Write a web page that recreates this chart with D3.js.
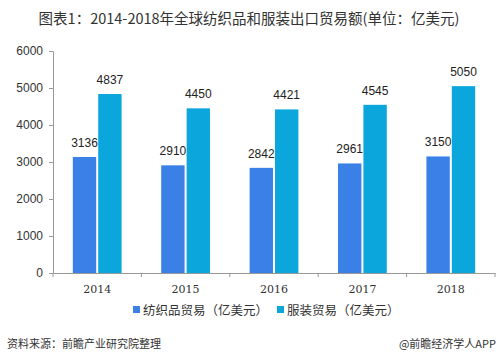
<!DOCTYPE html>
<html>
<head>
<meta charset="utf-8">
<script src="https://cdn.jsdelivr.net/npm/d3@7/dist/d3.min.js"></script>
<style>
  body { margin: 0; background: #fff; }
  text { font-family: "Noto Sans CJK SC", "Noto Sans", sans-serif; }
</style>
</head>
<body>
<div id="chart"></div>
<script>
// 年份
const years = ['2014', '2015', '2016', '2017', '2018'];
// 纺织品贸易（亿美元）
const textile = [3136, 2910, 2842, 2961, 3150];
// 服装贸易（亿美元）
const apparel = [4837, 4450, 4421, 4545, 5050];
const yTicks = [0, 1000, 2000, 3000, 4000, 5000, 6000];
const seriesNames = ['纺织品贸易（亿美元）', '服装贸易（亿美元）'];

const W = 499, H = 363;
const colors = ['#3a80e6', '#0aa6dc'];

const svg = d3.select('#chart').append('svg')
  .attr('width', W)
  .attr('height', H);

// 标题
svg.append('text')
  .attr('x', 249).attr('y', 24)
  .attr('text-anchor', 'middle')
  .attr('font-size', 14.5)
  .attr('fill', '#333')
  .text('图表1：2014-2018年全球纺织品和服装出口贸易额(单位：亿美元)');

const x = d3.scaleBand().domain(years).range([53, 495]);
const y = d3.scaleLinear().domain([0, 6000]).range([273, 51]);
const xs = d3.scaleBand().domain([0, 1]).range([0, x.bandwidth()]).paddingInner(0.08).paddingOuter(0.78);

// y轴
const yAxis = svg.append('g')
  .attr('transform', 'translate(53,0)')
  .call(d3.axisLeft(y).tickValues(yTicks).tickSize(4).tickPadding(6).tickFormat(d3.format('d')));
yAxis.select('.domain').attr('stroke', '#999');
yAxis.selectAll('.tick line').attr('stroke', '#999');
yAxis.selectAll('.tick text').attr('font-size', 12).attr('fill', '#333')
  .style('font-family', 'Arial, "Liberation Sans", sans-serif');

// x轴
const xAxis = svg.append('g')
  .attr('transform', 'translate(0,273)')
  .call(d3.axisBottom(x).tickSize(0).tickPadding(12));
xAxis.select('.domain').attr('stroke', '#999');
xAxis.selectAll('.tick text').attr('font-size', 11).attr('fill', '#333')
  .style('font-family', '"DejaVu Serif", serif');
// 类目分隔刻度
svg.append('g').selectAll('line')
  .data(years.concat(['end']))
  .join('line')
  .attr('x1', (d, i) => i < years.length ? x(d) : x(years[years.length - 1]) + x.bandwidth())
  .attr('x2', (d, i) => i < years.length ? x(d) : x(years[years.length - 1]) + x.bandwidth())
  .attr('y1', 273).attr('y2', 277)
  .attr('stroke', '#999');

// 柱子
const series = [textile, apparel];
series.forEach((vals, s) => {
  const g = svg.append('g');
  g.selectAll('rect')
    .data(vals)
    .join('rect')
    .attr('x', (d, i) => x(years[i]) + xs(s))
    .attr('y', d => y(d))
    .attr('width', xs.bandwidth())
    .attr('height', d => y(0) - y(d))
    .attr('fill', colors[s]);
  g.selectAll('text')
    .data(vals)
    .join('text')
    .attr('x', (d, i) => x(years[i]) + xs(s) + xs.bandwidth() / 2)
    .attr('y', d => y(d) - 10)
    .attr('text-anchor', 'middle')
    .attr('font-size', 12)
    .attr('fill', '#222')
    .style('font-family', 'Arial, "Liberation Sans", sans-serif')
    .text(d => d);
});

// 图例
const legendX = [133, 277];
const legend = svg.append('g').selectAll('g')
  .data(seriesNames)
  .join('g')
  .attr('transform', (d, i) => `translate(${legendX[i]},310)`);
legend.append('rect')
  .attr('x', 0).attr('y', -4)
  .attr('width', 7).attr('height', 7)
  .attr('fill', (d, i) => colors[i]);
legend.append('text')
  .attr('x', 10).attr('y', 4.5)
  .attr('font-size', 12.5)
  .attr('fill', '#333')
  .text(d => d);

// 来源
svg.append('text')
  .attr('x', 7).attr('y', 348)
  .attr('font-size', 11)
  .attr('fill', '#333')
  .text('资料来源：前瞻产业研究院整理');
svg.append('text')
  .attr('x', 496).attr('y', 348)
  .attr('text-anchor', 'end')
  .attr('font-size', 11)
  .attr('fill', '#333')
  .text('@前瞻经济学人APP');
</script>
</body>
</html>
